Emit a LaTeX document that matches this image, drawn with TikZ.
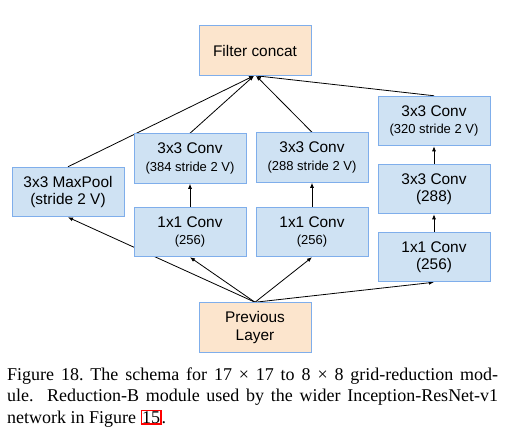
\documentclass[tikz,border=0pt]{standalone}
\usepackage{fontspec}
\setmainfont{Liberation Sans}
\newfontfamily\capfont{Liberation Serif}
\usetikzlibrary{arrows.meta}
\pgfdeclarelayer{background}
\pgfsetlayers{background,main}
\definecolor{boxblue}{HTML}{CFE2F3}
\definecolor{boxorange}{HTML}{FCE5CD}
\definecolor{edgeblue}{HTML}{7FAEEB}
\tikzset{
  layerbox/.style={draw=edgeblue, line width=1pt, minimum width=112pt, minimum height=49.5pt,
    inner sep=0pt, align=center, font=\fontsize{15.4}{17.5}\selectfont},
  convbox/.style={layerbox, fill=boxblue},
  catbox/.style={layerbox, fill=boxorange},
  flow/.style={line width=0.8pt, -{Latex[length=5pt,width=4pt]}},
}
\newcommand{\sub}[1]{{\fontsize{13}{17.5}\selectfont #1}}
\begin{document}
\begin{tikzpicture}[x=1pt,y=-1pt]
\useasboundingbox (0,0) rectangle (515,440);
\node[catbox]  (concat) at (255,50.5) {Filter concat};
\node[convbox] (pool)   at (68,192)   {3x3 MaxPool\\(stride 2 V)};
\node[convbox] (cA)     at (190,158.5){3x3 Conv\\\sub{(384 stride 2 V)}};
\node[convbox] (rA)     at (190,232)  {1x1 Conv\\\sub{(256)}};
\node[convbox] (cB)     at (312,157.5){3x3 Conv\\\sub{(288 stride 2 V)}};
\node[convbox] (rB)     at (312,232)  {1x1 Conv\\\sub{(256)}};
\node[convbox] (cC2)    at (434,121)  {3x3 Conv\\\sub{(320 stride 2 V)}};
\node[convbox] (cC1)    at (434,189)  {3x3 Conv\\(288)};
\node[convbox] (rC)     at (434,257)  {1x1 Conv\\(256)};
\node[catbox]  (prev)   at (255,327.5){Previous\\Layer};
\begin{pgfonlayer}{background}
\fill[white] (0,0) rectangle (515,440);
\draw[flow] (prev.north) -- (pool.south);
\draw[flow] (prev.north) -- (rA.south);
\draw[flow] (prev.north) -- (rB.south);
\draw[flow] (prev.north) -- (rC.south);
\draw[flow] (rA.north) -- (cA.south);
\draw[flow] (rB.north) -- (cB.south);
\draw[flow] (rC.north) -- (cC1.south);
\draw[flow] (cC1.north) -- (cC2.south);
\draw[flow] (pool.north) -- ([xshift=-1pt]concat.south);
\draw[flow] (cA.north) -- ([xshift=-1pt]concat.south);
\draw[flow] (cB.north) -- ([xshift=1pt]concat.south);
\draw[flow] (cC2.north) -- ([xshift=1pt]concat.south);
\end{pgfonlayer}
\begin{scope}[every node/.style={anchor=base west, inner sep=0pt, font=\capfont\fontsize{18}{21}\selectfont\frenchspacing}]
\node (cap1) at (7,380) {\makebox[491pt][s]{Figure 18. The schema for 17 × 17 to 8 × 8 grid-reduction mod-}};
\node (cap2) at (7,401.5) {\makebox[491pt][s]{ule.\ \ Reduction-B module used by the wider Inception-ResNet-v1}};
\node (cap3) at (7,423) {network in Figure {\setlength{\fboxsep}{0.3pt}\setlength{\fboxrule}{1.2pt}\color{red}\fbox{\color{black}15}}.};
\end{scope}
\end{tikzpicture}
\end{document}
